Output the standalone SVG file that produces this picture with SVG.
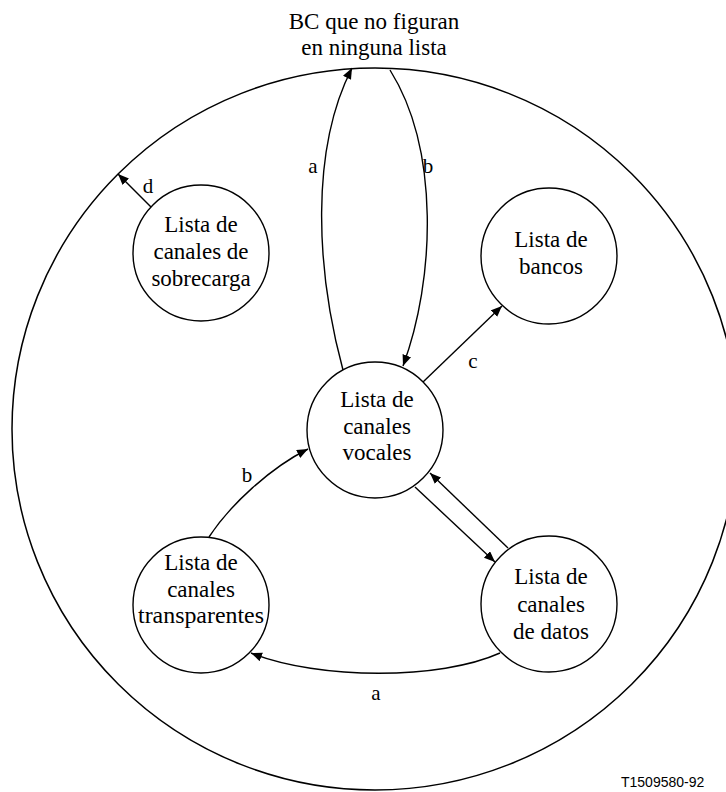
<svg xmlns="http://www.w3.org/2000/svg" width="726" height="792" viewBox="0 0 726 792">
<style>
.node circle{fill:#fff;stroke:#000;stroke-width:1.4}
text{font-family:"Liberation Serif","Times New Roman",serif;font-size:23px;fill:#000;text-anchor:middle}
.lbl{font-size:21px}
.conn path{fill:none;stroke:#000;stroke-width:1.4}
.id{font-family:"Liberation Sans",Arial,sans-serif;font-size:14px;text-anchor:start}
</style>
<defs>
<marker id="ah" markerUnits="userSpaceOnUse" markerWidth="12" markerHeight="10" refX="11" refY="4.5" orient="auto">
<path d="M0,0 L11,4.5 L0,9 z" fill="#000"/>
</marker>
</defs>
<rect width="726" height="792" fill="#fff"/>
<g id="outer">
<ellipse cx="375" cy="429" rx="363" ry="361" fill="none" stroke="#000" stroke-width="1.5"/>
<text x="374" y="29">BC que no figuran</text>
<text x="374" y="55">en ninguna lista</text>
</g>
<g class="conn" id="connectors">
<path d="M152,208 L118,174" marker-end="url(#ah)"/>
<path d="M343,370 C316,270 310,150 352,68" marker-end="url(#ah)"/>
<path d="M390,70 C440,150 435,280 403,366" marker-end="url(#ah)"/>
<path d="M423,382 L502,306" marker-end="url(#ah)"/>
<path d="M415,487 L495,562" marker-end="url(#ah)"/>
<path d="M508,548 L430,473" marker-end="url(#ah)"/>
<path d="M209,537 C230,505 270,468 308,449" marker-end="url(#ah)"/>
<path d="M500,653 C440,680 320,680 251,653" marker-end="url(#ah)"/>
</g>
<g id="labels">
<text class="lbl" x="148" y="193">d</text>
<text class="lbl" x="313" y="173">a</text>
<text class="lbl" x="428" y="173">b</text>
<text class="lbl" x="473" y="368">c</text>
<text class="lbl" x="247" y="482">b</text>
<text class="lbl" x="376" y="700">a</text>
</g>
<g class="node" id="sobrecarga">
<circle cx="201" cy="253" r="68"/>
<text x="201" y="232">Lista de</text>
<text x="201" y="259">canales de</text>
<text x="201" y="286">sobrecarga</text>
</g>
<g class="node" id="bancos">
<circle cx="549" cy="256" r="68"/>
<text x="551" y="247">Lista de</text>
<text x="551" y="274">bancos</text>
</g>
<g class="node" id="vocales">
<circle cx="375" cy="430" r="68"/>
<text x="377" y="407">Lista de</text>
<text x="377" y="434">canales</text>
<text x="377" y="460">vocales</text>
</g>
<g class="node" id="transparentes">
<circle cx="201" cy="605" r="68"/>
<text x="201" y="570">Lista de</text>
<text x="201" y="597">canales</text>
<text x="201" y="623" textLength="126" lengthAdjust="spacingAndGlyphs">transparentes</text>
</g>
<g class="node" id="datos">
<circle cx="549" cy="604" r="68"/>
<text x="551" y="584">Lista de</text>
<text x="551" y="612">canales</text>
<text x="551" y="639">de datos</text>
</g>
<text class="id" x="621" y="787">T1509580-92</text>
</svg>
